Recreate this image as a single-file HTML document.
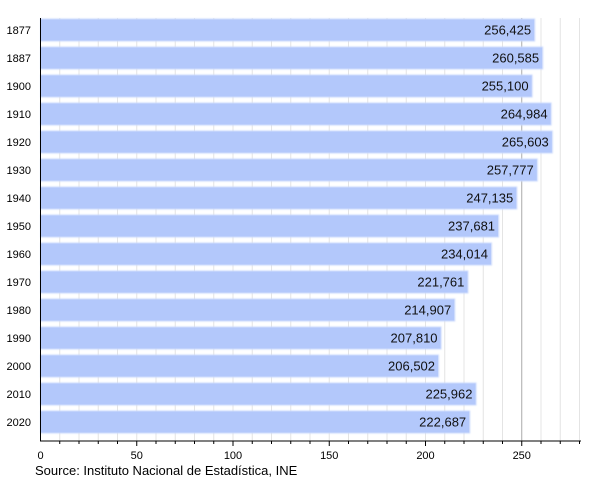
<!DOCTYPE html>
<html><head><style>body{margin:0;background:#fff}svg{display:block}text{font-family:"Liberation Sans",sans-serif}</style></head>
<body>
<svg width="600" height="480" xmlns="http://www.w3.org/2000/svg">
<defs><filter id="b" x="-5%" y="-20%" width="110%" height="140%"><feGaussianBlur stdDeviation="0.8"/></filter></defs>
<g id="grid"></g>
<g id="bars"></g>
<line x1="40.5" y1="18" x2="40.5" y2="441" stroke="#000"/>
<line x1="40" y1="441" x2="581" y2="441" stroke="#000"/>
<g id="ax"></g>
<text x="35" y="475" font-size="13">Source: Instituto Nacional de Estadística, INE</text>
<script>
var ns="http://www.w3.org/2000/svg";function el(p,t,a,tx){var e=document.createElementNS(ns,t);for(var k in a)e.setAttribute(k,a[k]);if(tx)e.textContent=tx;document.getElementById(p).appendChild(e);}
var s=1.925,x0=40.5;
for(var v=10;v<=280;v+=10){var x=x0+v*s;el('grid','line',{x1:x,y1:18,x2:x,y2:441,stroke:v==250?'#aaa':'#e4e4e4'});el('ax','line',{x1:x,y1:441,x2:x,y2:v%50?444:446,stroke:'#000'});}
for(var v=0;v<=250;v+=50){el('ax','text',{x:x0+v*s,y:459,'font-size':11,'text-anchor':'middle'},''+v);}
var d=[["1877",256.425],["1887",260.585],["1900",255.1],["1910",264.984],["1920",265.603],["1930",257.777],["1940",247.135],["1950",237.681],["1960",234.014],["1970",221.761],["1980",214.907],["1990",207.81],["2000",206.502],["2010",225.962],["2020",222.687]];
d.forEach(function(r,i){var c=30+i*28,w=r[1]*s;
el('bars','rect',{x:x0,y:c-11.5,width:w+1,height:23,fill:'#c9d8fc',filter:'url(#b)'});
el('bars','rect',{x:x0,y:c-10.5,width:w,height:21,fill:'#b3c8fb'});
el('bars','text',{x:x0+w-3,y:c+4.5,'font-size':13,'text-anchor':'end',fill:'#111'},r[1].toFixed(3).replace('.',','));
el('ax','text',{x:31,y:c+4,'font-size':11,'text-anchor':'end'},r[0]);});
</script>
</svg>
</body></html>
